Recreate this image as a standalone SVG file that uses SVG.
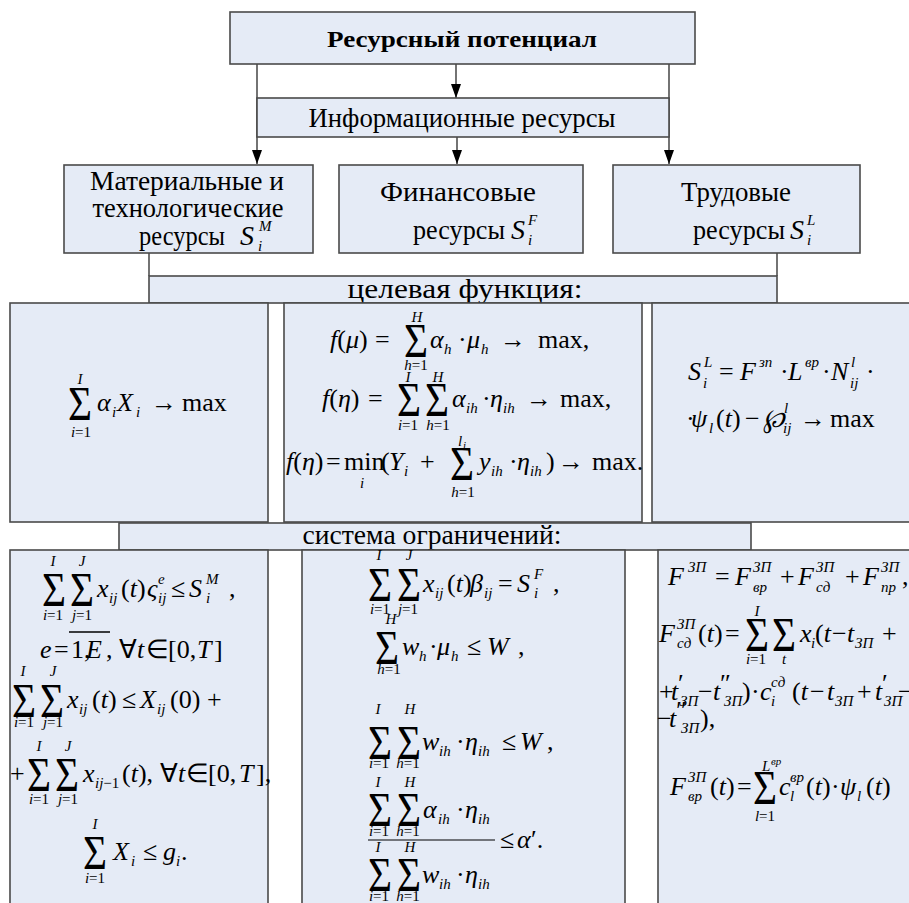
<svg xmlns="http://www.w3.org/2000/svg" width="909" height="903" viewBox="0 0 909 903">
<defs>
<style>
.bx{fill:#e5ebf6;stroke:#4a4a4a;stroke-width:1.6}
.ln{stroke:#000;stroke-width:1.1;fill:none}
text{font-family:"Liberation Serif","Times New Roman",serif;fill:#000}
.L{font-size:28px}
.B{font-size:23px;font-weight:bold}
.f{font-size:26px}
.i{font-style:italic}
.s{font-size:15px}
.xs{font-size:11px}
.S{font-size:48px}
.c{text-anchor:middle}
</style>
<marker id="ah" markerUnits="userSpaceOnUse" markerWidth="14" markerHeight="10" refX="14" refY="5" viewBox="0 0 14 10" orient="auto"><path d="M0,0 L14,5 L0,10 z" fill="#000"/></marker>
</defs>
<rect width="909" height="903" fill="#fff"/>

<g id="connectors">
<line class="ln" x1="257" y1="64" x2="257" y2="164" marker-end="url(#ah)"/>
<line class="ln" x1="456" y1="64" x2="456" y2="98" marker-end="url(#ah)"/>
<line class="ln" x1="669" y1="64" x2="669" y2="164" marker-end="url(#ah)"/>
<line class="ln" x1="457" y1="137" x2="457" y2="164" marker-end="url(#ah)"/>
<line class="ln" x1="149" y1="253" x2="149" y2="276"/>
<line class="ln" x1="777" y1="253" x2="777" y2="276"/>
</g>

<g id="n-top">
<rect class="bx" x="230" y="12" width="465" height="52"/>
<text class="B c" x="462" y="47" textLength="270" lengthAdjust="spacingAndGlyphs">Ресурсный потенциал</text>
</g>

<g id="n-info">
<rect class="bx" x="257" y="98" width="412" height="39"/>
<text class="L c" x="462" y="127" textLength="307" lengthAdjust="spacingAndGlyphs">Информационные ресурсы</text>
</g>

<g id="n-mat">
<rect class="bx" x="64" y="165" width="249" height="88"/>
<text class="L c" x="187" y="190" textLength="194" lengthAdjust="spacingAndGlyphs">Материальные и</text>
<text class="L c" x="188" y="217" textLength="191" lengthAdjust="spacingAndGlyphs">технологические</text>
<text class="L" x="139" y="245" textLength="86" lengthAdjust="spacingAndGlyphs">ресурсы</text>
<text class="L i" x="240" y="245">S</text>
<text class="s i" x="259" y="231">M</text>
<text class="s i" x="258" y="251">i</text>
</g>

<g id="n-fin">
<rect class="bx" x="339" y="165" width="244" height="88"/>
<text class="L c" x="458" y="201" textLength="156" lengthAdjust="spacingAndGlyphs">Финансовые</text>
<text class="L" x="413" y="239" textLength="92" lengthAdjust="spacingAndGlyphs">ресурсы</text>
<text class="L i" x="511" y="239">S</text>
<text class="s i" x="528" y="225">F</text>
<text class="s i" x="528" y="245">i</text>
</g>

<g id="n-lab">
<rect class="bx" x="613" y="165" width="247" height="88"/>
<text class="L c" x="736" y="201" textLength="110" lengthAdjust="spacingAndGlyphs">Трудовые</text>
<text class="L" x="693" y="239" textLength="92" lengthAdjust="spacingAndGlyphs">ресурсы</text>
<text class="L i" x="790" y="239">S</text>
<text class="s i" x="807" y="225">L</text>
<text class="s i" x="807" y="245">i</text>
</g>

<g id="n-goal">
<rect class="bx" x="149" y="276" width="628" height="27"/>
<text class="L c" x="465" y="298" textLength="235" lengthAdjust="spacingAndGlyphs">целевая функция:</text>
</g>

<g id="n-goalA">
<rect class="bx" x="10" y="303" width="258" height="219"/>
<text class="S" x="68" y="420" textLength="24" lengthAdjust="spacingAndGlyphs">Σ</text>
<text class="s i c" x="80" y="384">I</text>
<text class="s c" x="81" y="437"><tspan class="i">i</tspan>=1</text>
<text class="f i" x="97" y="411">α</text>
<text class="s i" x="112" y="417">i</text>
<text class="f i" x="117" y="411">X</text>
<text class="s i" x="136" y="417">i</text>
<text class="f" x="151" y="411">→</text>
<text class="f" x="182" y="411">max</text>
</g>

<g id="n-goalB">
<rect class="bx" x="284" y="303" width="358" height="219"/>
<text class="f" x="330" y="348"><tspan class="i">f</tspan>(<tspan class="i">μ</tspan>)</text>
<text class="f" x="375" y="348">=</text>
<text class="S" x="404" y="357" textLength="24" lengthAdjust="spacingAndGlyphs">Σ</text>
<text class="s i c" x="417" y="322">H</text>
<text class="s c" x="416" y="370"><tspan class="i">h</tspan>=1</text>
<text class="f i" x="430" y="348">α</text>
<text class="s i" x="444" y="354">h</text>
<text class="f" x="458" y="348">·</text>
<text class="f i" x="467" y="348">μ</text>
<text class="s i" x="481" y="354">h</text>
<text class="f" x="500" y="348">→</text>
<text class="f" x="538" y="348">max,</text>

<text class="f" x="322" y="407"><tspan class="i">f</tspan>(<tspan class="i">η</tspan>)</text>
<text class="f" x="368" y="407">=</text>
<text class="S" x="397" y="416" textLength="24" lengthAdjust="spacingAndGlyphs">Σ</text>
<text class="s i c" x="408" y="382">I</text>
<text class="s c" x="408" y="430"><tspan class="i">i</tspan>=1</text>
<text class="S" x="425" y="416" textLength="24" lengthAdjust="spacingAndGlyphs">Σ</text>
<text class="s i c" x="438" y="382">H</text>
<text class="s c" x="438" y="430"><tspan class="i">h</tspan>=1</text>
<text class="f i" x="452" y="407">α</text>
<text class="s i" x="466" y="413">ih</text>
<text class="f" x="482" y="407">·</text>
<text class="f i" x="490" y="407">η</text>
<text class="s i" x="503" y="413">ih</text>
<text class="f" x="526" y="407">→</text>
<text class="f" x="560" y="407">max,</text>

<text class="f" x="286" y="470"><tspan class="i">f</tspan>(<tspan class="i">η</tspan>)</text>
<text class="f" x="326" y="470">=</text>
<text class="f" x="344" y="470">min</text>
<text class="s i c" x="362" y="488">i</text>
<text class="f" x="381" y="470">(</text>
<text class="f i" x="389" y="470">Y</text>
<text class="s i" x="404" y="476">i</text>
<text class="f" x="420" y="470">+</text>
<text class="S" x="450" y="480" textLength="24" lengthAdjust="spacingAndGlyphs">Σ</text>
<text class="s i" x="458" y="446">l</text>
<text class="xs i" x="463" y="449">i</text>
<text class="s c" x="463" y="497"><tspan class="i">h</tspan>=1</text>
<text class="f i" x="479" y="470">y</text>
<text class="s i" x="491" y="476">ih</text>
<text class="f" x="509" y="470">·</text>
<text class="f i" x="517" y="470">η</text>
<text class="s i" x="530" y="476">ih</text>
<text class="f" x="546" y="470">)</text>
<text class="f" x="558" y="470">→</text>
<text class="f" x="592" y="470">max.</text>
</g>

<g id="n-goalC">
<rect class="bx" x="652" y="303" width="270" height="219"/>
<text class="f i" x="688" y="380">S</text>
<text class="s i" x="704" y="367">L</text>
<text class="s i" x="703" y="388">i</text>
<text class="f" x="719" y="380">=</text>
<text class="f i" x="740" y="380">F</text>
<text class="s i" x="759" y="367">зп</text>
<text class="f" x="780" y="380">·</text>
<text class="f i" x="788" y="380">L</text>
<text class="s i" x="805" y="367">вр</text>
<text class="f" x="822" y="380">·</text>
<text class="f i" x="831" y="380">N</text>
<text class="s i" x="851" y="367">l</text>
<text class="s i" x="850" y="388">ij</text>
<text class="f" x="866" y="380">·</text>
<text class="f" x="686" y="427">·</text>
<text class="f i" x="691" y="427">ψ</text>
<text class="s i" x="709" y="433">l</text>
<text class="f" x="716" y="427">(<tspan class="i">t</tspan>)</text>
<text class="f" x="745" y="427">−</text>
<text class="f i" x="763" y="427">℘</text>
<text class="s i" x="784" y="413">l</text>
<text class="s i" x="783" y="433">ij</text>
<text class="f" x="800" y="427">→</text>
<text class="f" x="830" y="427">max</text>
</g>

<g id="n-cons">
<rect class="bx" x="119" y="523" width="632" height="27"/>
<text class="L c" x="432" y="544" textLength="259" lengthAdjust="spacingAndGlyphs">система ограничений:</text>
</g>

<g id="n-consA">
<rect class="bx" x="10" y="550" width="258" height="370"/>
<text class="S" x="42" y="606" textLength="24" lengthAdjust="spacingAndGlyphs">Σ</text>
<text class="s i c" x="53" y="566">I</text>
<text class="s c" x="53" y="620"><tspan class="i">i</tspan>=1</text>
<text class="S" x="70" y="606" textLength="24" lengthAdjust="spacingAndGlyphs">Σ</text>
<text class="s i c" x="82" y="566">J</text>
<text class="s c" x="82" y="620"><tspan class="i">j</tspan>=1</text>
<text class="f i" x="97" y="597">x</text>
<text class="s i" x="109" y="603">ij</text>
<text class="f" x="121" y="597">(<tspan class="i">t</tspan>)</text>
<text class="f i" x="147" y="597">ς</text>
<text class="s i" x="158" y="584">e</text>
<text class="s i" x="158" y="603">ij</text>
<text class="f" x="171" y="597">≤</text>
<text class="f i" x="189" y="597">S</text>
<text class="s i" x="206" y="584">M</text>
<text class="s i" x="206" y="603">i</text>
<text class="f" x="229" y="597">,</text>

<text class="f i" x="40" y="658">e</text>
<text class="f" x="54" y="658">=</text>
<text class="f" x="71" y="658">1,</text>
<text class="f i" x="86" y="658">E</text>
<line x1="69" y1="632" x2="110" y2="632" stroke="#000" stroke-width="1.3"/>
<text class="f" x="106" y="658">,</text>
<text class="f" x="119" y="658" font-size="22">∀<tspan class="i">t</tspan></text>
<text class="f" x="146" y="658" font-size="20">∈</text>
<text class="f" x="168" y="658">[0,</text>
<text class="f i" x="197" y="658">T</text>
<text class="f" x="214" y="658">]</text>

<text class="S" x="12" y="717" textLength="24" lengthAdjust="spacingAndGlyphs">Σ</text>
<text class="s i c" x="23" y="676">I</text>
<text class="s c" x="24" y="727"><tspan class="i">i</tspan>=1</text>
<text class="S" x="40" y="717" textLength="24" lengthAdjust="spacingAndGlyphs">Σ</text>
<text class="s i c" x="53" y="676">J</text>
<text class="s c" x="53" y="727"><tspan class="i">j</tspan>=1</text>
<text class="f i" x="67" y="708">x</text>
<text class="s i" x="79" y="714">ij</text>
<text class="f" x="92" y="708">(<tspan class="i">t</tspan>)</text>
<text class="f" x="122" y="708">≤</text>
<text class="f i" x="140" y="708">X</text>
<text class="s i" x="157" y="714">ij</text>
<text class="f" x="170" y="708">(0)</text>
<text class="f" x="207" y="708">+</text>

<text class="f" x="10" y="782">+</text>
<text class="S" x="27" y="791" textLength="24" lengthAdjust="spacingAndGlyphs">Σ</text>
<text class="s i c" x="39" y="751">I</text>
<text class="s c" x="39" y="804"><tspan class="i">i</tspan>=1</text>
<text class="S" x="55" y="791" textLength="24" lengthAdjust="spacingAndGlyphs">Σ</text>
<text class="s i c" x="68" y="751">J</text>
<text class="s c" x="68" y="804"><tspan class="i">j</tspan>=1</text>
<text class="f i" x="83" y="782">x</text>
<text class="s" x="95" y="788"><tspan class="i">ij</tspan>−1</text>
<text class="f" x="122" y="782">(<tspan class="i">t</tspan>),</text>
<text class="f" x="160" y="782" font-size="22">∀<tspan class="i">t</tspan></text>
<text class="f" x="186" y="782" font-size="20">∈</text>
<text class="f" x="208" y="782">[0,</text>
<text class="f i" x="239" y="782">T</text>
<text class="f" x="256" y="782">],</text>

<text class="S" x="83" y="869" textLength="24" lengthAdjust="spacingAndGlyphs">Σ</text>
<text class="s i c" x="95" y="829">I</text>
<text class="s c" x="95" y="883"><tspan class="i">i</tspan>=1</text>
<text class="f i" x="113" y="860">X</text>
<text class="s i" x="131" y="866">i</text>
<text class="f" x="143" y="860">≤</text>
<text class="f i" x="163" y="860">g</text>
<text class="s i" x="176" y="866">i</text>
<text class="f" x="181" y="860">.</text>
</g>

<g id="n-consB">
<rect class="bx" x="302" y="550" width="323" height="370"/>
<text class="S" x="368" y="601" textLength="24" lengthAdjust="spacingAndGlyphs">Σ</text>
<text class="s i c" x="379" y="560">I</text>
<text class="s c" x="380" y="614"><tspan class="i">i</tspan>=1</text>
<text class="S" x="397" y="601" textLength="24" lengthAdjust="spacingAndGlyphs">Σ</text>
<text class="s i c" x="409" y="560">J</text>
<text class="s c" x="408" y="614"><tspan class="i">j</tspan>=1</text>
<text class="f i" x="423" y="592">x</text>
<text class="s i" x="435" y="598">ij</text>
<text class="f" x="447" y="592">(<tspan class="i">t</tspan>)</text>
<text class="f i" x="470" y="592">β</text>
<text class="s i" x="484" y="598">ij</text>
<text class="f" x="498" y="592">=</text>
<text class="f i" x="517" y="592">S</text>
<text class="s i" x="534" y="579">F</text>
<text class="s i" x="534" y="598">i</text>
<text class="f" x="553" y="592">,</text>

<text class="S" x="375" y="664" textLength="24" lengthAdjust="spacingAndGlyphs">Σ</text>
<text class="s i c" x="391" y="624">H</text>
<text class="s c" x="389" y="674"><tspan class="i">h</tspan>=1</text>
<text class="f i" x="402" y="655">w</text>
<text class="s i" x="419" y="661">h</text>
<text class="f" x="429" y="655">·</text>
<text class="f i" x="437" y="655">μ</text>
<text class="s i" x="451" y="661">h</text>
<text class="f" x="467" y="655">≤</text>
<text class="f i" x="487" y="655">W</text>
<text class="f" x="518" y="655">,</text>

<text class="S" x="368" y="759" textLength="24" lengthAdjust="spacingAndGlyphs">Σ</text>
<text class="s i c" x="378" y="714">I</text>
<text class="s c" x="379" y="768"><tspan class="i">i</tspan>=1</text>
<text class="S" x="397" y="759" textLength="24" lengthAdjust="spacingAndGlyphs">Σ</text>
<text class="s i c" x="410" y="714">H</text>
<text class="s c" x="408" y="768"><tspan class="i">h</tspan>=1</text>
<text class="f i" x="422" y="750">w</text>
<text class="s i" x="439" y="756">ih</text>
<text class="f" x="456" y="750">·</text>
<text class="f i" x="465" y="750">η</text>
<text class="s i" x="478" y="756">ih</text>
<text class="f" x="502" y="750">≤</text>
<text class="f i" x="520" y="750">W</text>
<text class="f" x="547" y="750">,</text>

<text class="S" x="368" y="826" textLength="24" lengthAdjust="spacingAndGlyphs">Σ</text>
<text class="s i c" x="378" y="787">I</text>
<text class="s c" x="379" y="836"><tspan class="i">i</tspan>=1</text>
<text class="S" x="397" y="826" textLength="24" lengthAdjust="spacingAndGlyphs">Σ</text>
<text class="s i c" x="410" y="787">H</text>
<text class="s c" x="408" y="836"><tspan class="i">h</tspan>=1</text>
<text class="f i" x="423" y="818">α</text>
<text class="s i" x="438" y="824">ih</text>
<text class="f" x="456" y="818">·</text>
<text class="f i" x="465" y="818">η</text>
<text class="s i" x="478" y="824">ih</text>
<line x1="368" y1="840" x2="495" y2="840" stroke="#000" stroke-width="1.2"/>
<text class="f" x="500" y="848">≤</text>
<text class="f i" x="517" y="848">α</text>
<text class="f" x="531" y="848">′.</text>
<text class="S" x="368" y="891" textLength="24" lengthAdjust="spacingAndGlyphs">Σ</text>
<text class="s i c" x="378" y="852">I</text>
<text class="s c" x="379" y="901"><tspan class="i">i</tspan>=1</text>
<text class="S" x="397" y="891" textLength="24" lengthAdjust="spacingAndGlyphs">Σ</text>
<text class="s i c" x="410" y="852">H</text>
<text class="s c" x="408" y="901"><tspan class="i">h</tspan>=1</text>
<text class="f i" x="422" y="883">w</text>
<text class="s i" x="439" y="889">ih</text>
<text class="f" x="456" y="883">·</text>
<text class="f i" x="465" y="883">η</text>
<text class="s i" x="478" y="889">ih</text>
</g>

<g id="n-consC">
<rect class="bx" x="658" y="550" width="270" height="370"/>
<text class="f i" x="668" y="585">F</text>
<text class="s i" x="688" y="572">ЗП</text>
<text class="f" x="715" y="585">=</text>
<text class="f i" x="735" y="585">F</text>
<text class="s i" x="753" y="572">ЗП</text>
<text class="s i" x="753" y="592">вр</text>
<text class="f" x="780" y="585">+</text>
<text class="f i" x="798" y="585">F</text>
<text class="s i" x="816" y="572">ЗП</text>
<text class="s i" x="816" y="592">сд</text>
<text class="f" x="845" y="585">+</text>
<text class="f i" x="863" y="585">F</text>
<text class="s i" x="881" y="572">ЗП</text>
<text class="s i" x="881" y="592">пр</text>
<text class="f" x="902" y="585">,</text>

<text class="f i" x="659" y="642">F</text>
<text class="s i" x="677" y="629">ЗП</text>
<text class="s i" x="677" y="648">сд</text>
<text class="f" x="698" y="642">(<tspan class="i">t</tspan>)</text>
<text class="f" x="725" y="642">=</text>
<text class="S" x="745" y="651" textLength="24" lengthAdjust="spacingAndGlyphs">Σ</text>
<text class="s i c" x="757" y="616">I</text>
<text class="s c" x="756" y="664"><tspan class="i">i</tspan>=1</text>
<text class="S" x="772" y="651" textLength="24" lengthAdjust="spacingAndGlyphs">Σ</text>
<text class="s i c" x="784" y="664">t</text>
<text class="f i" x="800" y="642">x</text>
<text class="s i" x="811" y="648">i</text>
<text class="f" x="815" y="642">(<tspan class="i">t</tspan></text>
<text class="f" x="832" y="642">−</text>
<text class="f i" x="847" y="642">t</text>
<text class="s i" x="855" y="648">ЗП</text>
<text class="f" x="882" y="642">+</text>

<text class="f" x="659" y="700">+</text>
<text class="f i" x="671" y="700">t</text>
<text class="f" x="678" y="692" font-size="16">′</text>
<text class="s i" x="680" y="706">ЗП</text>
<text class="f" x="698" y="700">−</text>
<text class="f i" x="713" y="700">t</text>
<text class="f" x="720" y="692" font-size="16">″</text>
<text class="s i" x="724" y="706">ЗП</text>
<text class="f" x="742" y="700">)</text>
<text class="f" x="751" y="700">·</text>
<text class="f i" x="760" y="700">c</text>
<text class="s i" x="771" y="687">сд</text>
<text class="s i" x="771" y="706">i</text>
<text class="f" x="792" y="700">(<tspan class="i">t</tspan></text>
<text class="f" x="810" y="700">−</text>
<text class="f i" x="827" y="700">t</text>
<text class="s i" x="835" y="706">ЗП</text>
<text class="f" x="857" y="700">+</text>
<text class="f i" x="875" y="700">t</text>
<text class="f" x="882" y="692" font-size="16">′</text>
<text class="s i" x="884" y="706">ЗП</text>
<text class="f" x="898" y="700" font-size="16">−</text>

<text class="f" x="657" y="727">−</text>
<text class="f i" x="669" y="727">t</text>
<text class="f" x="676" y="719" font-size="16">″</text>
<text class="s i" x="681" y="733">ЗП</text>
<text class="f" x="700" y="727">),</text>

<text class="f i" x="670" y="795">F</text>
<text class="s i" x="688" y="782">ЗП</text>
<text class="s i" x="688" y="801">вр</text>
<text class="f" x="710" y="795">(<tspan class="i">t</tspan>)</text>
<text class="f" x="737" y="795">=</text>
<text class="S" x="753" y="804" textLength="24" lengthAdjust="spacingAndGlyphs">Σ</text>
<text class="s i" x="762" y="771">L</text>
<text class="xs i" x="771" y="765">вр</text>
<text class="s c" x="765" y="821"><tspan class="i">l</tspan>=1</text>
<text class="f i" x="779" y="795">c</text>
<text class="s i" x="790" y="782">вр</text>
<text class="s i" x="790" y="801">l</text>
<text class="f" x="806" y="795">(<tspan class="i">t</tspan>)</text>
<text class="f" x="831" y="795">·</text>
<text class="f i" x="840" y="795">ψ</text>
<text class="s i" x="857" y="801">l</text>
<text class="f" x="866" y="795">(<tspan class="i">t</tspan>)</text>
</g>
</svg>
